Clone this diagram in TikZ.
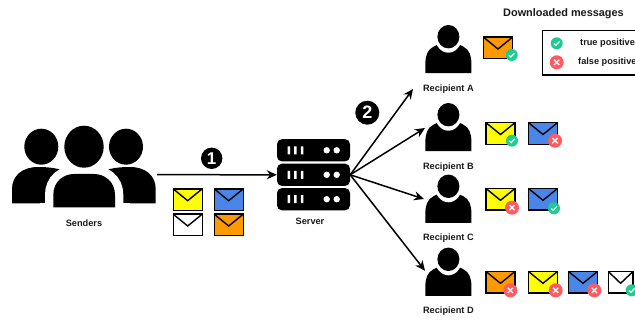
\documentclass[tikz,border=0pt]{standalone}
\usepackage{fontspec}
\setmainfont{Liberation Sans}
\usetikzlibrary{arrows.meta}
\definecolor{mailyellow}{HTML}{FFFF00}
\definecolor{mailblue}{HTML}{4A86E8}
\definecolor{mailorange}{HTML}{FF9900}
\definecolor{okgreen}{HTML}{1FCC8F}
\definecolor{badred}{HTML}{FF5A5F}
\tikzset{
    caption/.style={font=\fontsize{9.2}{10}\selectfont\bfseries,text=black!90,inner sep=0pt},
    link/.style={-{Stealth[length=10pt,width=9pt]},line width=1.5pt},
    numdot/.style={circle,fill=black,text=white,inner sep=0pt,font=\bfseries},
    rack/.style={rectangle,rounded corners=5pt,fill=black,minimum width=73pt,minimum height=22.3pt,inner sep=0pt},
    pics/mail/.style={code={
        \draw[line width=1.4pt,fill=#1] (-14.5,-10.8) rectangle (14.5,10.8);
        \draw[line width=1.4pt] (-14.5,-10.8) -- (0,1) -- (14.5,-10.8);}},
    pics/okay/.style={code={
        \fill[okgreen] (0,0) circle (6);
        \draw[white,line width=1.2pt] (-2.8,0.2) -- (-0.8,2) -- (2.8,-1.8);}},
    pics/wrong/.style={code={
        \fill[badred] (0,0) circle (7);
        \draw[white,line width=1.4pt] (-2.6,-2.6) -- (2.6,2.6) (-2.6,2.6) -- (2.6,-2.6);}},
    pics/person/.style={code={
        \fill (-23,36.5) -- (-23,27) .. controls (-23,19) and (-21,13) .. (-15,10) -- (-9,7) -- (9,7) -- (15,10)
            .. controls (21,13) and (23,19) .. (23,27) -- (23,36.5) -- cycle;
        \fill[white] (0,0) ellipse (13.5 and 16);
        \fill (0,0) ellipse (11 and 11.7);}},
    pics/slot/.style={code={
        \fill[white] (-26,-4) rectangle (-23.5,4) (-19.3,-4) rectangle (-16.8,4) (-12.6,-4) rectangle (-10.1,4);
        \fill[white] (13.2,0) circle (3.2) (23.2,0) circle (3.2);}}
}
\begin{document}
\begin{tikzpicture}[x=1pt,y=-1pt,>=Stealth]
    \useasboundingbox (0,0) rectangle (635,320);
    \node[inner sep=0pt,minimum width=145pt,minimum height=80pt] (senders) at (84.5,174.7) {};
    \fill (12,203.3) -- (12,189) .. controls (12,176) and (22,167) .. (38,167)
        .. controls (60,167) and (84,172) .. (84,203.3) -- cycle;
    \fill (155.7,203.3) -- (155.7,189) .. controls (155.7,176) and (146,167) .. (130,167)
        .. controls (108,167) and (84,172) .. (84,203.3) -- cycle;
    \draw[white,line width=16.6pt] (53.3,207.3) -- (53.3,195) .. controls (53.3,181) and (64,174) .. (74,174) -- (94,174)
        .. controls (104,174) and (115,181) .. (115,195) -- (115,207.3) -- cycle;
    \fill[white] (40,203.3) rectangle (130,220);
    \fill (53.3,207.3) -- (53.3,195) .. controls (53.3,181) and (64,174) .. (74,174) -- (94,174)
        .. controls (104,174) and (115,181) .. (115,195) -- (115,207.3) -- cycle;
    \fill (41.3,146.7) ellipse (17 and 18) (126,146.7) ellipse (17 and 18);
    \fill (84,146.7) ellipse (19.7 and 21);
    \node[caption] (sendname) at (84,222.8) {Senders};

    \node[rack] (row1) at (313.5,150.3) {};
    \node[rack] (row2) at (313.5,174.8) {};
    \node[rack] (row3) at (313.5,199.2) {};
    \foreach \r in {row1,row2,row3}
        \pic at (\r) {slot};
    \node[caption] (servname) at (310,221.7) {Server};

    \foreach \n/\y/\t in {A/36.7/Recipient A,B/114.7/Recipient B,C/186.3/Recipient C,D/259.3/Recipient D} {
        \pic at (448.4,\y) {person};
        \node[caption] (name\n) at (448.4,\y+52) {\t};
    }

    \coordinate (tipA) at (413,89);
    \coordinate (tipB) at (425,128);
    \coordinate (tipC) at (424,199);
    \coordinate (tipD) at (425,270.7);
    \draw[link] (senders.east) -- (row2.west);
    \foreach \n in {A,B,C,D}
        \draw[link] (row2.east) -- (tip\n);

    \node[numdot,minimum size=21.4pt,font=\fontsize{17}{17}\selectfont\bfseries] (step1) at (211.7,158.3) {1};
    \node[numdot,minimum size=24pt,font=\fontsize{18}{18}\selectfont\bfseries] (step2) at (367.3,112.7) {2};

    \foreach \x/\y/\c in {187.7/199.7/mailyellow,228.7/199.7/mailblue,187.7/225/white,228.7/225/mailorange,
        498/48/mailorange,500.5/133.5/mailyellow,543/133.5/mailblue,500.5/199.3/mailyellow,543/199.3/mailblue,
        500.5/282.3/mailorange,543/282.3/mailyellow,583/282.3/mailblue}
        \pic at (\x,\y) {mail=\c};
    \draw[line width=1.4pt,fill=white] (608.3,271.5) rectangle (633,293.1);
    \draw[line width=1.4pt] (608.3,271.5) -- (620.6,283.3) -- (633,271.5);

    \foreach \x/\y in {511.7/55,512/140.7,554/208.3,631.7/290.3,556.7/43.3}
        \pic at (\x,\y) {okay};
    \foreach \x/\y in {555/140.7,512/207.7,510.3/290.3,555.7/290.3,594.3/290.3,556.7/62.3}
        \pic at (\x,\y) {wrong};

    \node[caption,font=\fontsize{10.9}{12}\selectfont\bfseries] (title) at (563.5,13.6) {Downloaded messages};
    \draw[line width=1.3pt] (640,30.7) -- (542.7,30.7) -- (542.7,75) -- (640,75);
    \node[caption,anchor=west] (truelab) at (580,43.3) {true positive};
    \node[caption,anchor=west] (falselab) at (578,62.3) {false positive};
\end{tikzpicture}
\end{document}
